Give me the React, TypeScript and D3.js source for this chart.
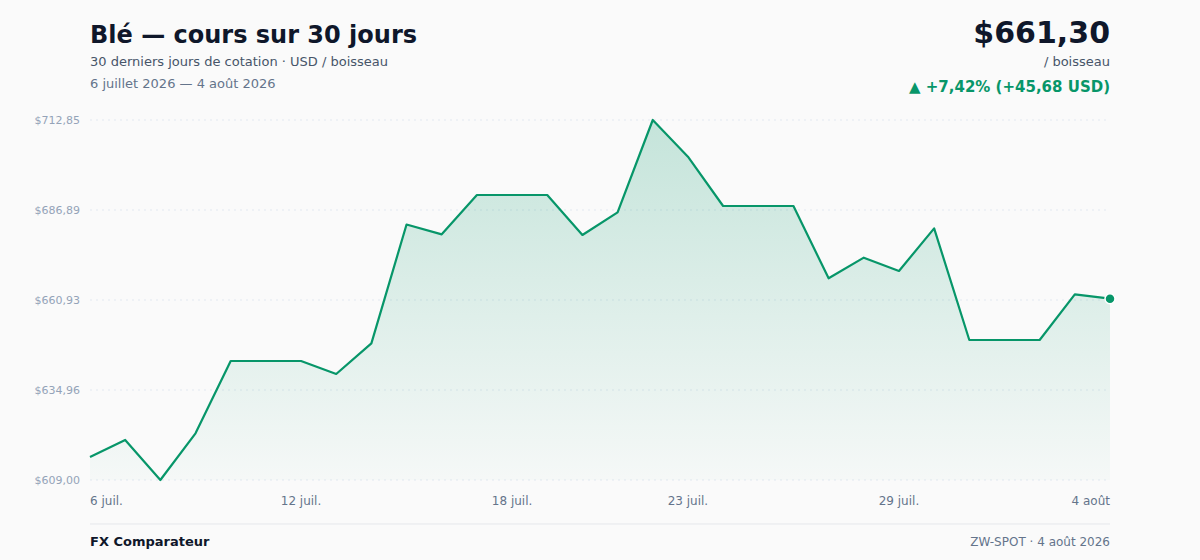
import * as React from 'react';
import * as d3 from 'd3';

// daily closes, 6 juil. -> 4 août (weekends carry the previous close)
const dayLabels = [
  '6 juil.', '7 juil.', '8 juil.', '9 juil.', '10 juil.', '11 juil.', '12 juil.',
  '13 juil.', '14 juil.', '15 juil.', '16 juil.', '17 juil.', '18 juil.', '19 juil.',
  '20 juil.', '21 juil.', '22 juil.', '23 juil.', '24 juil.', '25 juil.', '26 juil.',
  '27 juil.', '28 juil.', '29 juil.', '30 juil.', '31 juil.', '1 août', '2 août',
  '3 août', '4 août',
];
const closes = [
  615.62, 620.54, 609.0, 622.47, 643.33, 643.33, 643.33, 639.58, 648.43, 682.7,
  679.87, 691.21, 691.21, 691.21, 679.68, 686.22, 712.85, 702.27, 688.04, 688.04,
  688.04, 667.18, 673.14, 669.29, 681.6, 649.39, 649.39, 649.39, 662.56, 661.3,
];
const xTickIdx = [0, 6, 12, 17, 23, 29];
const yTickCount = 5;

const W = 1200;
const H = 560;
const left = 90;
const right = 1110;
const top = 120;
const bottom = 480;

const green = '#079669';
const fmt = (v: number) => '$' + (Math.round(v * 100 + 1e-6) / 100).toFixed(2).replace('.', ',');

export default function App() {
  const x = d3.scaleLinear().domain([0, closes.length - 1]).range([left, right]);
  const [lo, hi] = d3.extent(closes) as [number, number];
  const y = d3.scaleLinear().domain([lo, hi]).range([bottom, top]);
  const yTicks = d3.range(yTickCount).map((i) => lo + ((hi - lo) * i) / (yTickCount - 1));

  const line = d3.line<number>().x((_, i) => x(i)).y((d) => y(d));
  const area = d3.area<number>().x((_, i) => x(i)).y0(bottom).y1((d) => y(d));

  const last = closes[closes.length - 1];
  const first = closes[0];
  const diff = last - first;
  const pct = (diff / first) * 100;

  const font = '"DejaVu Sans", sans-serif';

  return (
    <svg width={W} height={H} style={{ position: 'absolute', left: 0, top: 0 }} fontFamily={font}>
      <defs>
        <linearGradient id="fillGrad" x1="0" y1="0" x2="0" y2="1">
          <stop offset="0%" stopColor={green} stopOpacity={0.22} />
          <stop offset="100%" stopColor={green} stopOpacity={0.02} />
        </linearGradient>
      </defs>
      <rect width={W} height={H} fill="#fafafa" />

      {/* header */}
      <text x={left} y={43} fontSize={24} fontWeight="bold" fill="#0f172a">Blé — cours sur 30 jours</text>
      <text x={left} y={66} fontSize={13} fill="#475569">30 derniers jours de cotation · USD / boisseau</text>
      <text x={left} y={88} fontSize={13} fill="#64748b">6 juillet 2026 — 4 août 2026</text>

      <text x={right} y={43} fontSize={30} fontWeight="bold" fill="#0f172a" textAnchor="end">{fmt(last)}</text>
      <text x={right} y={66} fontSize={13} fill="#475569" textAnchor="end">/ boisseau</text>
      <text x={right} y={92} fontSize={15} fontWeight="bold" fill={green} textAnchor="end">
        {'▲ +' + pct.toFixed(2).replace('.', ',') + '% (+' + diff.toFixed(2).replace('.', ',') + ' USD)'}
      </text>

      {/* grid + y labels */}
      {yTicks.map((t, i) => (
        <g key={i}>
          <line x1={left} x2={right} y1={y(t)} y2={y(t)} stroke="#e2e8f0" strokeDasharray="2 4" />
          <text x={80} y={y(t) + 4} fontSize={11} fill="#94a3b8" textAnchor="end">{fmt(t)}</text>
        </g>
      ))}

      <path d={area(closes) || ''} fill="url(#fillGrad)" />
      <path d={line(closes) || ''} fill="none" stroke={green} strokeWidth={2.2} strokeLinejoin="round" />
      <circle cx={x(closes.length - 1)} cy={y(last)} r={5} fill={green} stroke="#fff" strokeWidth={1.5} />

      {/* x labels */}
      {xTickIdx.map((i, k) => (
        <text
          key={i}
          x={x(i)}
          y={505}
          fontSize={12}
          fill="#64748b"
          textAnchor={k === 0 ? 'start' : k === xTickIdx.length - 1 ? 'end' : 'middle'}
        >
          {dayLabels[i]}
        </text>
      ))}

      {/* footer */}
      <line x1={left} x2={right} y1={524} y2={524} stroke="#e5e7eb" strokeWidth={1} />
      <text x={left} y={546} fontSize={13} fontWeight="bold" fill="#0f172a">FX Comparateur</text>
      <text x={right} y={546} fontSize={12} fill="#64748b" textAnchor="end">ZW-SPOT · 4 août 2026</text>
    </svg>
  );
}
